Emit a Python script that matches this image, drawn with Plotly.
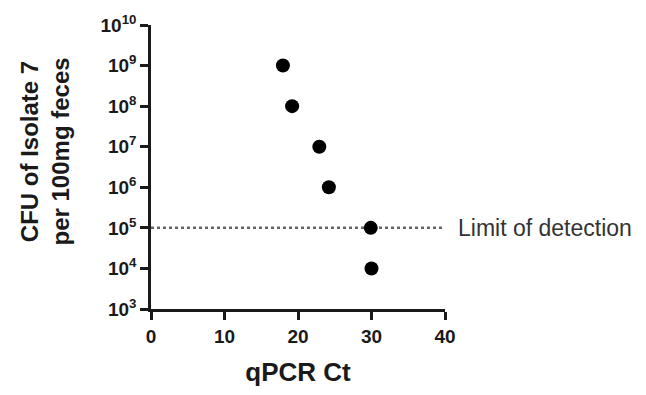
import plotly.graph_objects as go

# qPCR cycle threshold vs. colony counts
ct_values = [17.95, 19.2, 22.9, 24.2, 29.9, 30.0]
cfu_values = [1e9, 1e8, 1e7, 1e6, 1e5, 1e4]

# detection limit
lod_value = 1e5
lod_x = [0, 40]

x_ticks = [0, 10, 20, 30, 40]
y_exponents = [3, 4, 5, 6, 7, 8, 9, 10]
y_tickvals = [10 ** e for e in y_exponents]
y_ticktext = [f"<b>10<sup>{e}</sup></b>" for e in y_exponents]

ink = "#1a1a1a"
font_family = "Liberation Sans, Arial, sans-serif"

fig = go.Figure()

fig.add_trace(go.Scatter(
    x=lod_x, y=[lod_value, lod_value], mode="lines",
    line=dict(color="#666666", width=2.5, dash="dot"),
    hoverinfo="skip", showlegend=False, cliponaxis=False,
))

fig.add_trace(go.Scatter(
    x=ct_values, y=cfu_values, mode="markers",
    marker=dict(color="black", size=14),
    showlegend=False, cliponaxis=False,
))

fig.add_annotation(
    x=40, y=5, xref="x", yref="y", text="Limit of detection",
    showarrow=False, xanchor="left", yanchor="middle", xshift=11,
    font=dict(family=font_family, size=23, color="#333333"),
)

# y-axis title, placed by hand
fig.add_annotation(
    x=-0.362, y=0.553, xref="paper", yref="paper",
    text="<b>CFU of Isolate 7<br>per 100mg feces</b>",
    showarrow=False, textangle=-90, xanchor="center", yanchor="middle",
    font=dict(family=font_family, size=24, color=ink),
)

fig.update_layout(
    width=646, height=395,
    margin=dict(l=151, r=201, t=20, b=84),
    plot_bgcolor="white", paper_bgcolor="white",
    font=dict(family=font_family, color=ink),
)

fig.update_xaxes(
    range=[0, 40], tickvals=x_ticks,
    ticktext=[f"<b>{v}</b>" for v in x_ticks],
    showgrid=False, zeroline=False,
    showline=True, linecolor=ink, linewidth=2.5,
    ticks="outside", ticklen=8, tickwidth=2.5, tickcolor=ink,
    tickfont=dict(family=font_family, size=19, color=ink),
    title=dict(text="<b>qPCR Ct</b>", font=dict(family=font_family, size=26, color=ink), standoff=18),
)

fig.update_yaxes(
    type="log", range=[3, 10], tickvals=y_tickvals, ticktext=y_ticktext,
    showgrid=False, zeroline=False,
    showline=True, linecolor=ink, linewidth=2.5,
    ticks="outside", ticklen=8, tickwidth=2.5, tickcolor=ink,
    tickfont=dict(family=font_family, size=19, color=ink),
)

fig.write_html("out.html")
